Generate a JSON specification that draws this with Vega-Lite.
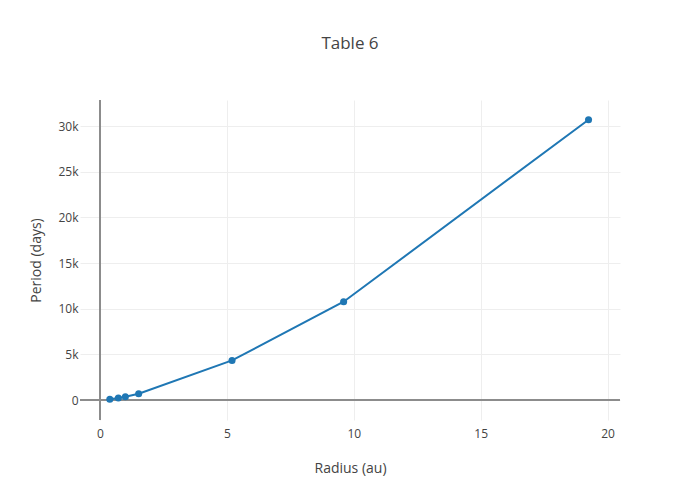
{
  "$schema": "https://vega.github.io/schema/vega-lite/v6.json",
  "width": 540,
  "height": 320,
  "autosize": {"type": "none"},
  "padding": {"left": 80, "top": 100, "right": 80, "bottom": 80},
  "background": "white",
  "title": {"text": "Table 6", "fontSize": 17, "font": "Open Sans", "fontWeight": "normal", "color": "#444", "anchor": "middle", "offset": 46},
  "config": {
    "view": {"stroke": null},
    "axis": {"labelFont": "Open Sans", "labelFontSize": 12, "labelColor": "#444", "titleFont": "Open Sans", "titleFontSize": 14, "titleFontWeight": "normal", "titleColor": "#444", "domain": false, "ticks": false, "grid": true, "gridColor": "#eeeeee", "gridWidth": 1, "gridOpacity": 1}
  },
  "data": {"values": [
    {"radius": 0.387, "period": 88},
    {"radius": 0.723, "period": 225},
    {"radius": 1.0, "period": 365},
    {"radius": 1.524, "period": 687},
    {"radius": 5.203, "period": 4333},
    {"radius": 9.6, "period": 10759},
    {"radius": 19.25, "period": 30687}
  ]},
  "encoding": {
    "x": {"field": "radius", "type": "quantitative", "title": "Radius (au)",
      "scale": {"domain": [-0.788, 20.49], "nice": false, "zero": false},
      "axis": {"values": [0, 5, 10, 15, 20], "labelPadding": 8, "titlePadding": 22, "grid": true}},
    "y": {"field": "period", "type": "quantitative", "title": "Period (days)",
      "scale": {"domain": [-2190, 32850], "nice": false, "zero": false},
      "axis": {"values": [0, 5000, 10000, 15000, 20000, 25000, 30000], "labelExpr": "datum.value == 0 ? '0' : format(datum.value / 1000, 'd') + 'k'", "labelPadding": 2, "titlePadding": 14, "grid": true}}
  },
  "layer": [
    {"mark": {"type": "rule", "color": "#8c8c8c", "strokeWidth": 2}, "encoding": {"x": {"datum": 0, "type": "quantitative"}, "y": null}},
    {"mark": {"type": "rule", "color": "#8c8c8c", "strokeWidth": 2}, "encoding": {"y": {"datum": 0, "type": "quantitative"}, "x": null}},
    {
      "mark": {"type": "line", "color": "#1f77b4", "strokeWidth": 2, "point": {"filled": true, "size": 50, "color": "#1f77b4", "opacity": 1}}
    }
  ]
}
